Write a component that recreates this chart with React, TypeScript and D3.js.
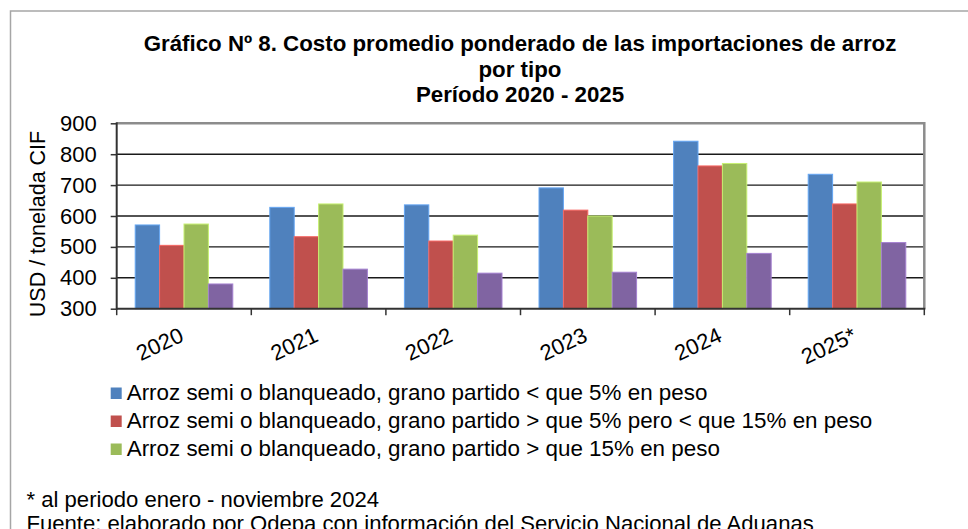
import { useEffect, useRef } from 'react';
import * as d3 from 'd3';

const WIDTH = 968;
const HEIGHT = 529;
// plot area (inside the axes)
const PLOT = { left: 116.7, right: 924.3, top: 123.3, bottom: 308.7 };
const FONT = '"Liberation Sans", Arial, sans-serif';

const years = ['2020', '2021', '2022', '2023', '2024', '2025*'];
const seriesKeys = ['menor5', 'entre5y15', 'mayor15', 'otro'];

// USD / tonelada CIF
const menor5 = [571, 628, 636, 691, 842, 735];
const entre5y15 = [505, 533, 519, 619, 762, 639];
const mayor15 = [574, 639, 538, 600, 770, 710];
const otro = [380, 428, 415, 418, 479, 514];

const legendLabels = [
  'Arroz semi o blanqueado, grano partido < que 5% en peso',
  'Arroz semi o blanqueado, grano partido > que 5% pero < que 15% en peso',
  'Arroz semi o blanqueado, grano partido > que 15% en peso',
];
const colors = ['#4F81BD', '#C0504D', '#9BBB59', '#8064A2'];
const yTicks = [300, 400, 500, 600, 700, 800, 900];

const titleLines = [
  'Gráfico Nº 8. Costo promedio ponderado de las importaciones de arroz',
  'por tipo',
  'Período 2020 - 2025',
];
const notes = [
  '* al periodo enero - noviembre 2024',
  'Fuente: elaborado por Odepa con información del Servicio Nacional de Aduanas',
];

const allSeries = [menor5, entre5y15, mayor15, otro];

export default function App() {
  const yAxisRef = useRef<SVGGElement>(null);

  const xScale = d3.scaleBand<string>().domain(years).range([PLOT.left, PLOT.right]);
  const bw = xScale.bandwidth();
  const pad = bw * 0.1375;
  const x1 = d3.scaleBand<string>().domain(seriesKeys).range([pad, bw - pad]);
  const yScale = d3.scaleLinear().domain([300, 900]).range([PLOT.bottom, PLOT.top]);

  useEffect(() => {
    const g = d3.select(yAxisRef.current);
    g.selectAll('*').remove();
    g.call(d3.axisLeft(yScale).tickValues(yTicks).tickSize(6).tickPadding(14).tickFormat(d3.format('d')));
    g.select('.domain').remove();
    g.selectAll('.tick line').attr('stroke', '#333').attr('stroke-width', 1.5);
    g.selectAll('.tick text')
      .attr('font-size', 22)
      .attr('font-family', FONT)
      .attr('fill', '#000');
  }, []);

  const boundaries = [...years.map((yr) => xScale(yr) as number), PLOT.right];

  return (
    <svg
      width={WIDTH}
      height={HEIGHT}
      style={{ position: 'absolute', left: 0, top: 0, background: '#fff' }}
      fontFamily={FONT}
    >
      <rect x={0} y={0} width={WIDTH} height={HEIGHT} fill="#fff" />
      {/* outer frame */}
      <rect x={10.5} y={11} width={1000} height={600} fill="none" stroke="#a6a6a6" strokeWidth={1.5} />

      {/* title */}
      {titleLines.map((t, i) => (
        <text key={i} x={520} y={51 + i * 25.5} textAnchor="middle" fontSize={22.3} fontWeight="bold">
          {t}
        </text>
      ))}

      {/* gridlines */}
      {yTicks.slice(1).map((t) => (
        <line key={t} x1={PLOT.left} x2={PLOT.right} y1={yScale(t)} y2={yScale(t)} stroke="#1a1a1a" strokeWidth={1.4} />
      ))}

      {/* bars */}
      {years.map((yr, i) => (
        <g key={yr} transform={`translate(${xScale(yr)},0)`}>
          {seriesKeys.map((k, j) => {
            const v = allSeries[j][i];
            const c = d3.color(colors[j])!.brighter(0.7).formatHex();
            return (
              <rect
                key={k}
                x={x1(k)}
                y={yScale(v)}
                width={x1.bandwidth()}
                height={PLOT.bottom - yScale(v)}
                fill={colors[j]}
                stroke={c}
                strokeWidth={1}
              />
            );
          })}
        </g>
      ))}

      {/* plot border top / right */}
      <path
        d={`M${PLOT.left},${PLOT.top}H${PLOT.right}V${PLOT.bottom}`}
        fill="none"
        stroke="#8c8c8c"
        strokeWidth={2.5}
      />
      {/* y axis line */}
      <line x1={PLOT.left} x2={PLOT.left} y1={PLOT.top - 1} y2={PLOT.bottom + 1} stroke="#333" strokeWidth={2} />
      <g ref={yAxisRef} transform={`translate(${PLOT.left},0)`} />

      {/* x axis */}
      <line x1={PLOT.left} x2={PLOT.right + 1} y1={PLOT.bottom} y2={PLOT.bottom} stroke="#333" strokeWidth={2} />
      {boundaries.map((bx, i) => (
        <line key={i} x1={bx} x2={bx} y1={PLOT.bottom} y2={PLOT.bottom + 6.5} stroke="#333" strokeWidth={1.5} />
      ))}
      {years.map((yr) => (
        <text
          key={yr}
          transform={`translate(${(xScale(yr) as number) + bw / 2 + 1},340.5) rotate(-25)`}
          textAnchor="end"
          fontSize={22}
        >
          {yr}
        </text>
      ))}

      {/* y axis title */}
      <text transform="translate(45,224) rotate(-90)" textAnchor="middle" fontSize={21.5}>
        USD / tonelada CIF
      </text>

      {/* legend (only three entries, as in the original) */}
      {legendLabels.map((lab, i) => (
        <g key={i} transform={`translate(110.7,${387.5 + i * 28})`}>
          <rect x={0} y={0} width={11} height={11.5} fill={colors[i]} />
          <text x={16} y={12.5} fontSize={22.4}>
            {lab}
          </text>
        </g>
      ))}

      {/* notes */}
      {notes.map((n, i) => (
        <text key={i} x={26.5} y={506.7 + i * 24} fontSize={22.1}>
          {n}
        </text>
      ))}
    </svg>
  );
}
